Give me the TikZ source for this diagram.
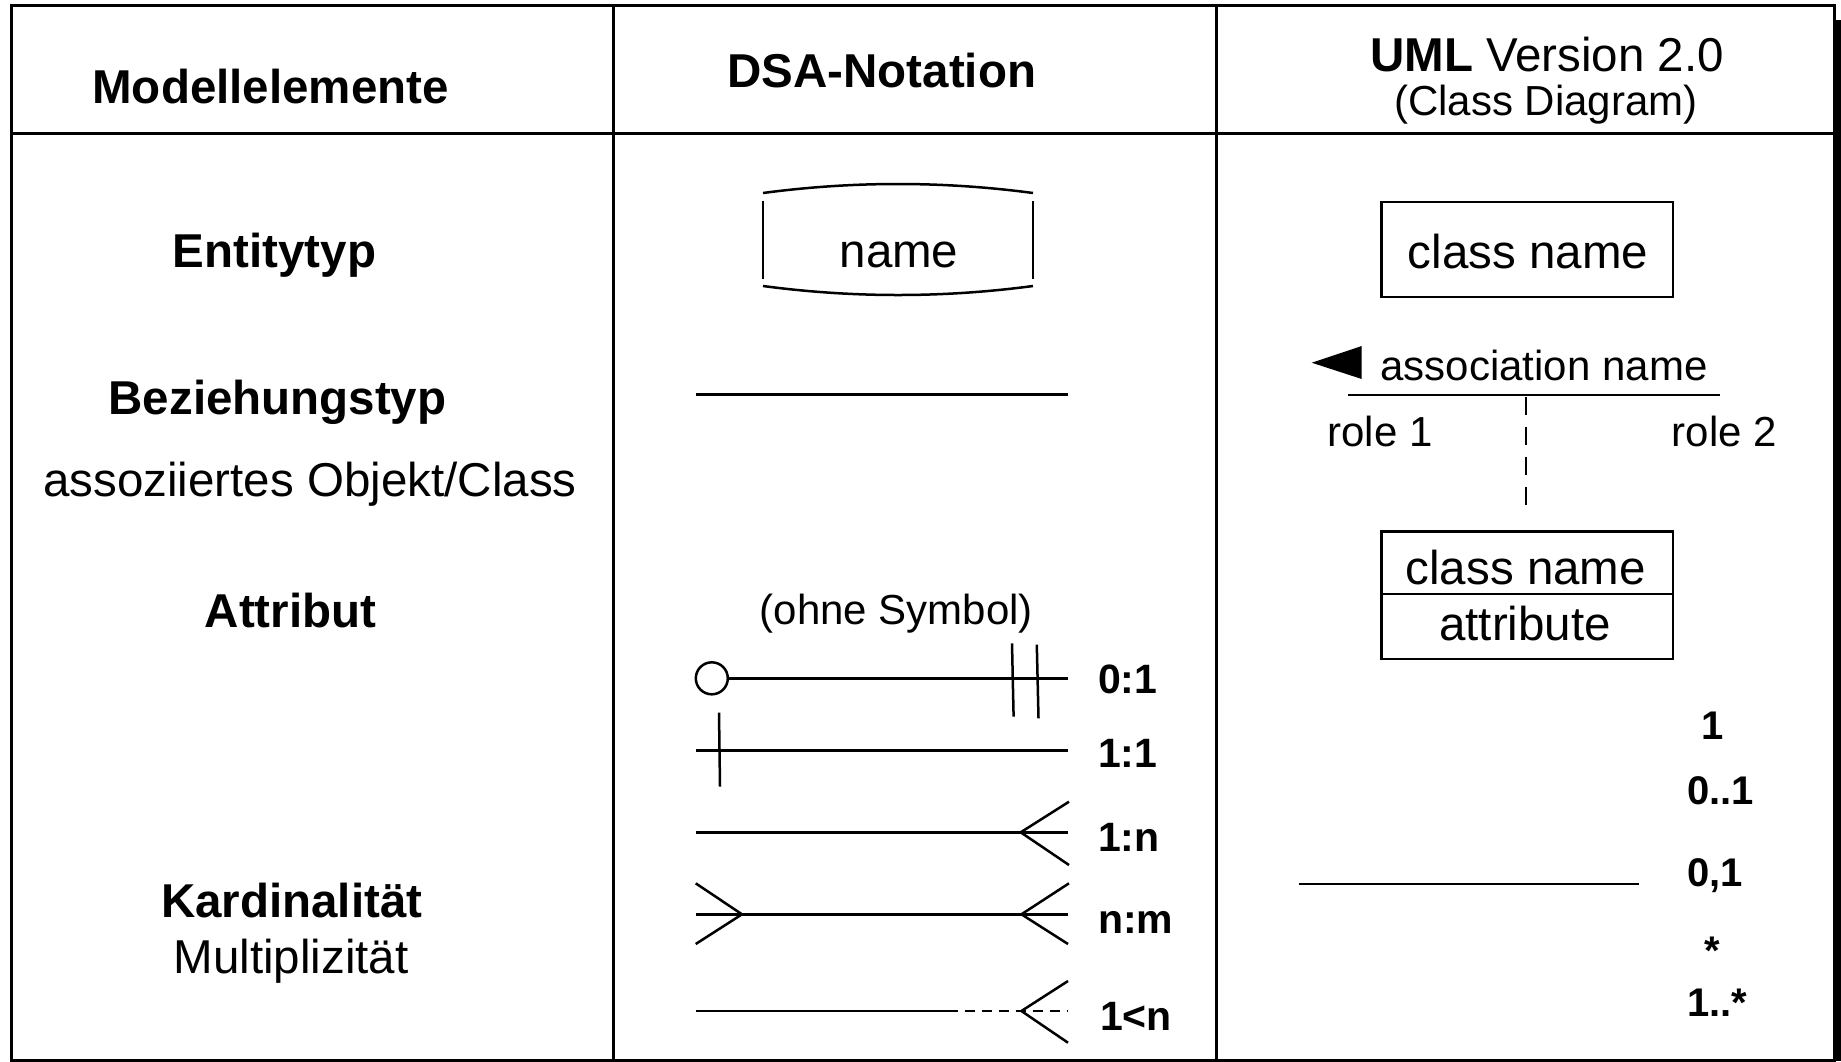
\documentclass[tikz,border=0pt]{standalone}
\usepackage{fontspec}
\setmainfont{Liberation Sans}
\begin{document}
\begin{tikzpicture}[x=1pt,y=-1pt,
  line width=2.5pt,
  txt/.style={anchor=base,inner sep=0pt,outer sep=0pt},
  big/.style={font=\fontsize{47.5}{57}\selectfont},
  bigb/.style={font=\fontsize{47.5}{57}\selectfont\bfseries},
  mid/.style={font=\fontsize{42}{50}\selectfont},
  card/.style={font=\fontsize{41}{49}\selectfont\bfseries,anchor=base west},
  mult/.style={font=\fontsize{40}{48}\selectfont\bfseries},
  frameline/.style={line width=3pt},
  boxnode/.style={draw,line width=2.5pt,inner sep=0pt,anchor=north west},
  dashA/.style={dash pattern=on 10pt off 7pt},
  dashB/.style={dash pattern=on 18pt off 12pt}]
\useasboundingbox (0,0) rectangle (1841,1061);
\fill[white] (0,0) rectangle (1841,1061);
% shadow
\fill[black] (1835,20) rectangle (1841,1061);
% frame
\draw[frameline] (11,5) rectangle (1834,1060);
\draw[frameline] (11,133) -- (1834,133);
\draw[frameline] (613,5) -- (613,1060);
\draw[frameline] (1216,5) -- (1216,1060);

% headers
\node[txt,bigb] (h1) at (270.6,103.3) {Modellelemente};
\node[txt,bigb] (h2) at (881.8,87.3) {DSA-Notation};
\node[txt,big] (h3) at (1547,71.5) {\textbf{UML} Version 2.0};
\node[txt,mid] (h4) at (1546,115) {(Class Diagram)};

% column 1
\node[txt,bigb] (e1) at (274.5,267) {Entitytyp};
\node[txt,bigb] (e2) at (277.5,414) {Beziehungstyp};
\node[txt,big] (e3) at (310,496) {assoziiertes Objekt/Class};
\node[txt,bigb] (e4) at (290.6,627) {Attribut};
\node[txt,bigb] (e5) at (291.8,917) {Kardinalität};
\node[txt,big] (e6) at (291,973) {Multiplizität};

% column 2: entity symbol
\draw (763,193) .. controls (853,181) and (943,181) .. (1033,193);
\draw (763,201) -- (763,279);
\draw (1033,201) -- (1033,279);
\draw (763,286) .. controls (853,298) and (943,298) .. (1033,286);
\node[txt,big] (ename) at (899,267) {name};

% relationship line
\coordinate (r1) at (695.7,394.5);
\coordinate (r2) at (1067.9,394.5);
\draw (r1) -- (r2);

\node[txt,mid] (ohne) at (896.4,624) {(ohne Symbol)};

% 0:1
\draw (711.8,678.3) circle (16pt);
\draw (727.8,678.3) -- (1068,678.3);
\draw (1012,643.3) -- (1013.6,716.7);
\draw (1036.8,644.7) -- (1038.5,718.3);
\node[txt,card] (c1) at (1098,693.3) {0:1};
% 1:1
\draw (695.7,750.7) -- (1068,750.7);
\draw (719,712.7) -- (720,786.7);
\node[txt,card] (c2) at (1098,767) {1:1};
% 1:n
\draw (695.7,832.3) -- (1068,832.3);
\draw (1069,801.7) -- (1020.7,832.3) -- (1069,865);
\node[txt,card] (c3) at (1098,851) {1:n};
% n:m
\draw (695.7,914.3) -- (1068,914.3);
\draw (695.7,883.3) -- (742,914.3) -- (695.7,944);
\draw (1069,883.3) -- (1021.4,914.3) -- (1068,944);
\node[txt,card] (c4) at (1098,933) {n:m};
% 1<n
\draw (695.7,1011) -- (947.5,1011);
\draw[dashA] (947.5,1011) -- (1068,1011);
\draw (1068,981) -- (1021.4,1011) -- (1068,1042.7);
\node[txt,card] (c5) at (1100,1030) {1<n};

% column 3
\node[boxnode,minimum width=291.7pt,minimum height=95pt] (cbox) at (1380,200.7) {};
\node[txt,big] (cname) at (1528,268) {class name};

\fill (1311.7,362.7) -- (1361.7,346) -- (1361.7,379) -- cycle;
\node[txt,mid] (assoc) at (1544,380) {association name};
\coordinate (a1) at (1348.3,395);
\coordinate (a2) at (1720,395);
\draw (a1) -- (a2);
\coordinate (d1) at (1526,396.7);
\coordinate (d2) at (1526,505);
\draw[dashB] (d1) -- (d2);
\node[txt,mid] (role1) at (1380,446.5) {role 1};
\node[txt,mid] (role2) at (1724.5,446.5) {role 2};

\node[boxnode,minimum width=291.7pt,minimum height=127.7pt] (abox) at (1380,530) {};
\draw (abox.west |- 0,594) -- (abox.east |- 0,594);
\node[txt,big] (cname2) at (1525.8,584) {class name};
\node[txt,big] (attr) at (1525,640.7) {attribute};

\coordinate (m1) at (1298.9,884);
\coordinate (m2) at (1638.6,884);
\draw (m1) -- (m2);
\node[txt,mult] (u1) at (1712.5,739) {1};
\node[txt,mult,anchor=base west] (u2) at (1687,804) {0..1};
\node[txt,mult,anchor=base west] (u3) at (1687,886) {0,1};
\node[txt,mult] (u4) at (1712.5,964) {*};
\node[txt,mult,anchor=base west] (u5) at (1687,1016) {1..*};
\end{tikzpicture}
\end{document}
